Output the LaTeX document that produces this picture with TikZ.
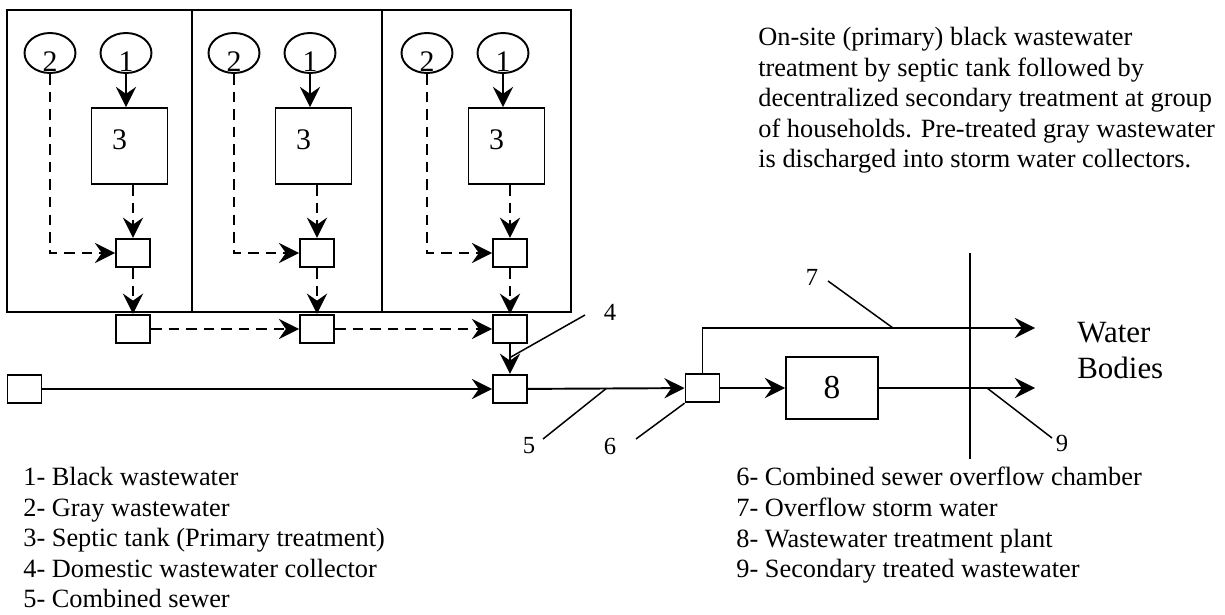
\documentclass[tikz,border=0pt]{standalone}
\usepackage{fontspec}
\setmainfont{Liberation Serif}
\usetikzlibrary{arrows.meta,shapes.geometric,positioning,calc}

\tikzset{
  flow/.style={line width=1.1pt, -{Stealth[length=11.5pt,width=11.5pt,inset=4pt]}},
  dflow/.style={flow, dash pattern=on 6pt off 4pt},
  chamber/.style={draw, line width=1.1pt, minimum width=0.68cm, minimum height=0.57cm, inner sep=0pt},
  tank/.style={draw, line width=1.1pt, minimum width=1.52cm, minimum height=1.52cm, inner sep=0pt},
  src/.style={draw, ellipse, line width=1.1pt, minimum width=1.02cm, minimum height=0.8cm, inner sep=0pt},
  digit/.style={font=\fontsize{17}{19}\selectfont, inner sep=0pt},
  leader/.style={line width=0.85pt},
  num/.style={font=\fontsize{14}{16}\selectfont, inner sep=0pt},
  txt/.style={font=\fontsize{15}{17.4}\selectfont, align=left, inner sep=0pt},
}

\begin{document}
\begin{tikzpicture}[x=0.02cm, y=-0.02cm]
	\useasboundingbox (0,0) rectangle (1225,615);

	% the three households
	\draw[line width=1.1pt] (7,10) rectangle (571,312);
	\draw[line width=1.1pt] (192,10) -- (192,312);
	\draw[line width=1.1pt] (382,10) -- (382,312);

            \foreach \b [count=\i] in {0,184,377}{
              \node[src, label={[digit,yshift=-0.17cm]center:2}] (gw\i) at (50+\b,53) {};
              \node[src, label={[digit,yshift=-0.17cm]center:1}] (bw\i) at (126+\b,53) {};
              \node[tank, label={[digit,xshift=-0.2cm,yshift=0.12cm]center:3}] (st\i) at (129.5+\b,146) {};
              \node[chamber] (ic\i) at (133+\b,253) {};
              \node[chamber] (hc\i) at (133+\b,329) {};

              \draw[flow] (bw\i.south) -- (bw\i.south |- st\i.north);
              \draw[dflow] (ic\i.north |- st\i.south) -- (ic\i.north);
              \draw[dflow] (gw\i.south) |- (ic\i.west);
              \draw[dflow] (ic\i.south) -- (hc\i.north);
            }

            \draw[dflow] (hc1) -- (hc2);
            \draw[dflow] (hc2) -- (hc3);

	% combined sewer and treatment
            \node[chamber] (up) at (24.5,389) {};
            \node[chamber] (dc) at (510,389) {};
            \node[chamber] (cso) at (702.5,388) {};
            \node[draw, line width=1.1pt, minimum width=1.84cm, minimum height=1.24cm,
              font=\fontsize{19}{22}\selectfont] (wwtp) at (832,388) {8};
            \coordinate (wb1) at (1035,328);
            \coordinate (wb2) at (1035,388);

            \draw[flow] (up) -- (dc);
            \draw[flow] (hc3) -- (dc);
            \draw[flow] (dc) -- (cso);
            \draw[flow] (cso) -- (wwtp);
            \draw[flow] (cso.north) |- (wb1);
            \draw[flow] (wwtp) -- (wb2);
            \draw[line width=1.1pt] (970,253) -- (970,459);

            \node[txt, font=\fontsize{17.6}{20.5}\selectfont, anchor=west] (wb) at (1077,351) {Water\\Bodies};

	% numbered leaders
            \node[num] (n4) at (610,312) {4};
            \node[num] (n5) at (529,446) {5};
            \node[num] (n6) at (610,446) {6};
            \node[num] (n7) at (812,277) {7};
            \node[num] (n9) at (1062,443) {9};
            \coordinate (l4) at (585,315);
            \coordinate (l5) at (543,439);
            \coordinate (l6) at (636,439);
            \coordinate (l7) at (828,281);
            \coordinate (l9) at (1052,438);
            \draw[leader] (l4) -- ($(hc3.south)!0.45!(dc.north)$);
            \draw[leader] (l5) -- ($(dc.east)!0.5!(cso.west)$);
            \draw[leader] (l6) -- (cso.south west);
            \draw[leader] (l7) -- (893,328);
            \draw[leader] (l9) -- (987,388);

	% texts
          \node[txt, anchor=north west] (note) at (758,27) {On-site (primary) black wastewater\\treatment by septic tank followed by\\decentralized secondary treatment at group\\of households. Pre-treated gray wastewater\\is discharged into storm water collectors.};
          \node[txt, anchor=north west] (keyl) at (23,467) {1- Black wastewater\\2- Gray wastewater\\3- Septic tank (Primary treatment)\\4- Domestic wastewater collector\\5- Combined sewer};
          \node[txt, anchor=north west] (keyr) at (736,467) {6- Combined sewer overflow chamber\\7- Overflow storm water\\8- Wastewater treatment plant\\9- Secondary treated wastewater};
        \end{tikzpicture}
\end{document}
